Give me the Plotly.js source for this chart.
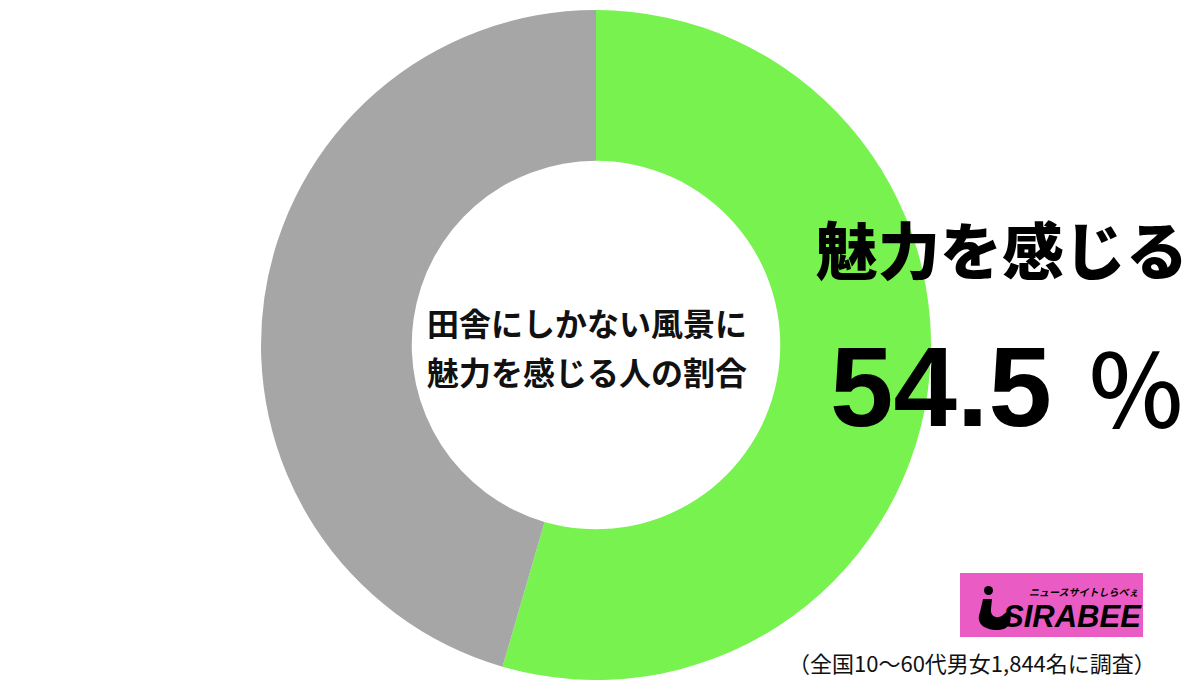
<!DOCTYPE html>
<html><head><meta charset="utf-8">
<script src="https://cdn.plot.ly/plotly-3.0.1.min.js"></script>
<style>html,body{margin:0;padding:0;background:#fff}#chart{width:1200px;height:687px}</style>
</head><body><div id="chart"></div>
<script>
const labels = ['魅力を感じる', '感じない'];
const values = [54.5, 45.5];
const colors = ['#77f24f', '#a6a6a6'];
const centerLines = ['田舎にしかない風景に', '魅力を感じる人の割合'];
const headline = '魅力を感じる';
const valueText = values[0].toFixed(1);
const note = '（全国10〜60代男女1,844名に調査）';

const W = 1200, H = 687;
const px = x => x / W, py = y => 1 - y / H;
const cx = 596, cy = 345, r = 335;

const cjk = 'Noto Sans CJK JP, sans-serif';
const annotations = [
  {text: centerLines[0], x: px(cx-9), y: py(322)},
  {text: centerLines[1], x: px(cx-9), y: py(371)}
].map(a => Object.assign(a, {xref:'paper', yref:'paper', showarrow:false, xanchor:'center', yanchor:'middle',
  font:{family:cjk, size:32, weight:700, color:'#111'}}));
annotations.push({text: headline, x: px(1002), y: py(248), xref:'paper', yref:'paper', showarrow:false,
  xanchor:'center', yanchor:'middle', font:{family:cjk, size:62, weight:900, color:'#000'}});
annotations.push({text: valueText, x: px(828), y: py(386), xref:'paper', yref:'paper', showarrow:false,
  xanchor:'left', yanchor:'middle', font:{family:'Liberation Sans, Arial, sans-serif', size:114, weight:700, color:'#000'}});
annotations.push({text: '％', x: px(1136), y: py(384), xref:'paper', yref:'paper', showarrow:false,
  xanchor:'center', yanchor:'middle', font:{family:cjk, size:100, weight:500, color:'#000'}});
annotations.push({text: note, x: px(1158), y: py(662), xref:'paper', yref:'paper', showarrow:false,
  xanchor:'right', yanchor:'middle', font:{family:cjk, size:22, weight:400, color:'#111'}});
// logo text
annotations.push({text: '<i>SIRABEE</i>', x: px(1072), y: py(616), xref:'paper', yref:'paper', showarrow:false,
  xanchor:'center', yanchor:'middle', font:{family:'Liberation Sans, Arial, sans-serif', size:31, weight:900, color:'#000'}});
annotations.push({text: '<i>ニュースサイトしらべぇ</i>', x: px(1084), y: py(591), xref:'paper', yref:'paper', showarrow:false,
  xanchor:'center', yanchor:'middle', font:{family:cjk, size:10, weight:700, color:'#000'}});

function P(x, y){ return px(x).toFixed(4) + ',' + py(y).toFixed(4); }
const shapes = [
  {type:'rect', xref:'paper', yref:'paper', x0:px(960), x1:px(1143), y0:py(637), y1:py(573),
   fillcolor:'#ea5cc4', line:{width:0}, layer:'below'},
  {type:'circle', xref:'paper', yref:'paper', x0:px(984), x1:px(993), y0:py(595), y1:py(586),
   fillcolor:'#000', line:{width:0}},
  {type:'path', xref:'paper', yref:'paper', fillcolor:'#000', line:{width:0},
   path:'M'+P(983,599)+' L'+P(992,599)+' L'+P(991,609)+' C'+P(990,617)+' '+P(998,620)+' '+P(1004,614)
     +' L'+P(1008,611)+' C'+P(1013,616)+' '+P(1012,630)+' '+P(998,630)
     +' C'+P(982,630)+' '+P(976,622)+' '+P(980,612)+' Z'}
];

const data = [{
  type:'pie', labels: labels, values: values, sort:false, direction:'clockwise', rotation:0,
  hole:0.55, marker:{colors: colors, line:{width:0}}, textinfo:'none', hoverinfo:'none',
  domain:{x:[px(cx-r), px(cx+r)], y:[py(cy+r), py(cy-r)]}
}];
const layout = {
  width: W, height: H, margin:{l:0,r:0,t:0,b:0}, showlegend:false,
  paper_bgcolor:'#fff', plot_bgcolor:'#fff', annotations: annotations, shapes: shapes
};
Plotly.newPlot('chart', data, layout, {staticPlot:true, displayModeBar:false});
</script></body></html>
